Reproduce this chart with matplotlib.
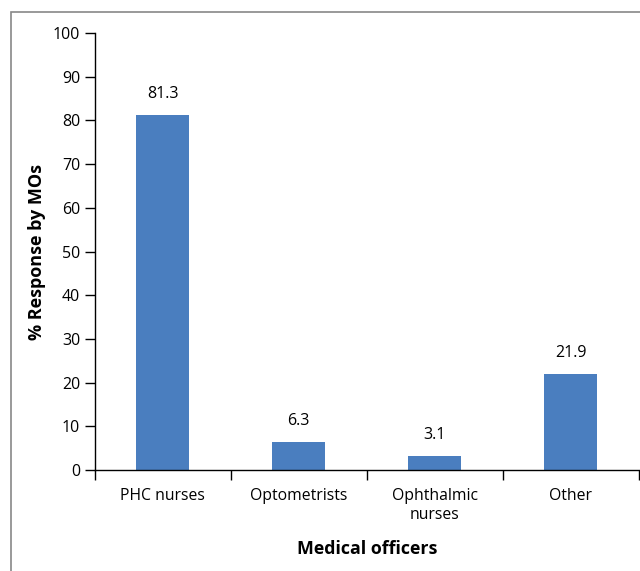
import matplotlib
matplotlib.use("Agg")
import matplotlib.pyplot as plt
from matplotlib.patches import Rectangle
import numpy as np

plt.rcParams['font.family'] = ['Open Sans', 'DejaVu Sans']

categories = ["PHC nurses", "Optometrists", "Ophthalmic\nnurses", "Other"]
values = [81.3, 6.3, 3.1, 21.9]
yticks = [0, 10, 20, 30, 40, 50, 60, 70, 80, 90, 100]

fig = plt.figure(figsize=(6.4, 5.71), dpi=100)

# frame around the chart area, running off the right and bottom edges
fig.patches.append(Rectangle((0.0172, -0.1), 1.2, 0.979 + 0.1, transform=fig.transFigure,
                             fill=False, edgecolor="#888888", linewidth=1.2))

ax = fig.add_axes([0.148, 0.177, 0.850, 0.765])
x = np.arange(len(categories))
ax.bar(x, values, width=0.39, color="#4a7ebf")

for xi, v in zip(x, values):
    ax.text(xi, v + 3, f"{v:.1f}", ha="center", va="bottom", fontsize=11.5)

ax.set_xlim(-0.5, len(categories) - 0.5)
ax.set_ylim(0, 100)
ax.set_yticks(yticks)
ax.tick_params(axis="y", labelsize=11.5, direction="out", length=7, width=1)

# category ticks sit between the bars, labels under the bar centres
ax.set_xticks(np.arange(len(categories) + 1) - 0.5)
ax.set_xticklabels([])
ax.set_xticks(x, minor=True)
ax.set_xticklabels(categories, minor=True, fontsize=11.3, linespacing=1.25)
ax.tick_params(axis="x", which="major", direction="out", length=7, width=1)
ax.tick_params(axis="x", which="minor", length=0, pad=13)

for s in ["top", "right"]:
    ax.spines[s].set_visible(False)
ax.spines["left"].set_linewidth(1)
ax.spines["bottom"].set_linewidth(1)

ax.set_ylabel("% Response by MOs", fontsize=13, fontweight="bold", labelpad=5)
ax.set_xlabel("Medical officers", fontsize=12.8, fontweight="bold", labelpad=12)

fig.savefig("out.png", dpi=100)
